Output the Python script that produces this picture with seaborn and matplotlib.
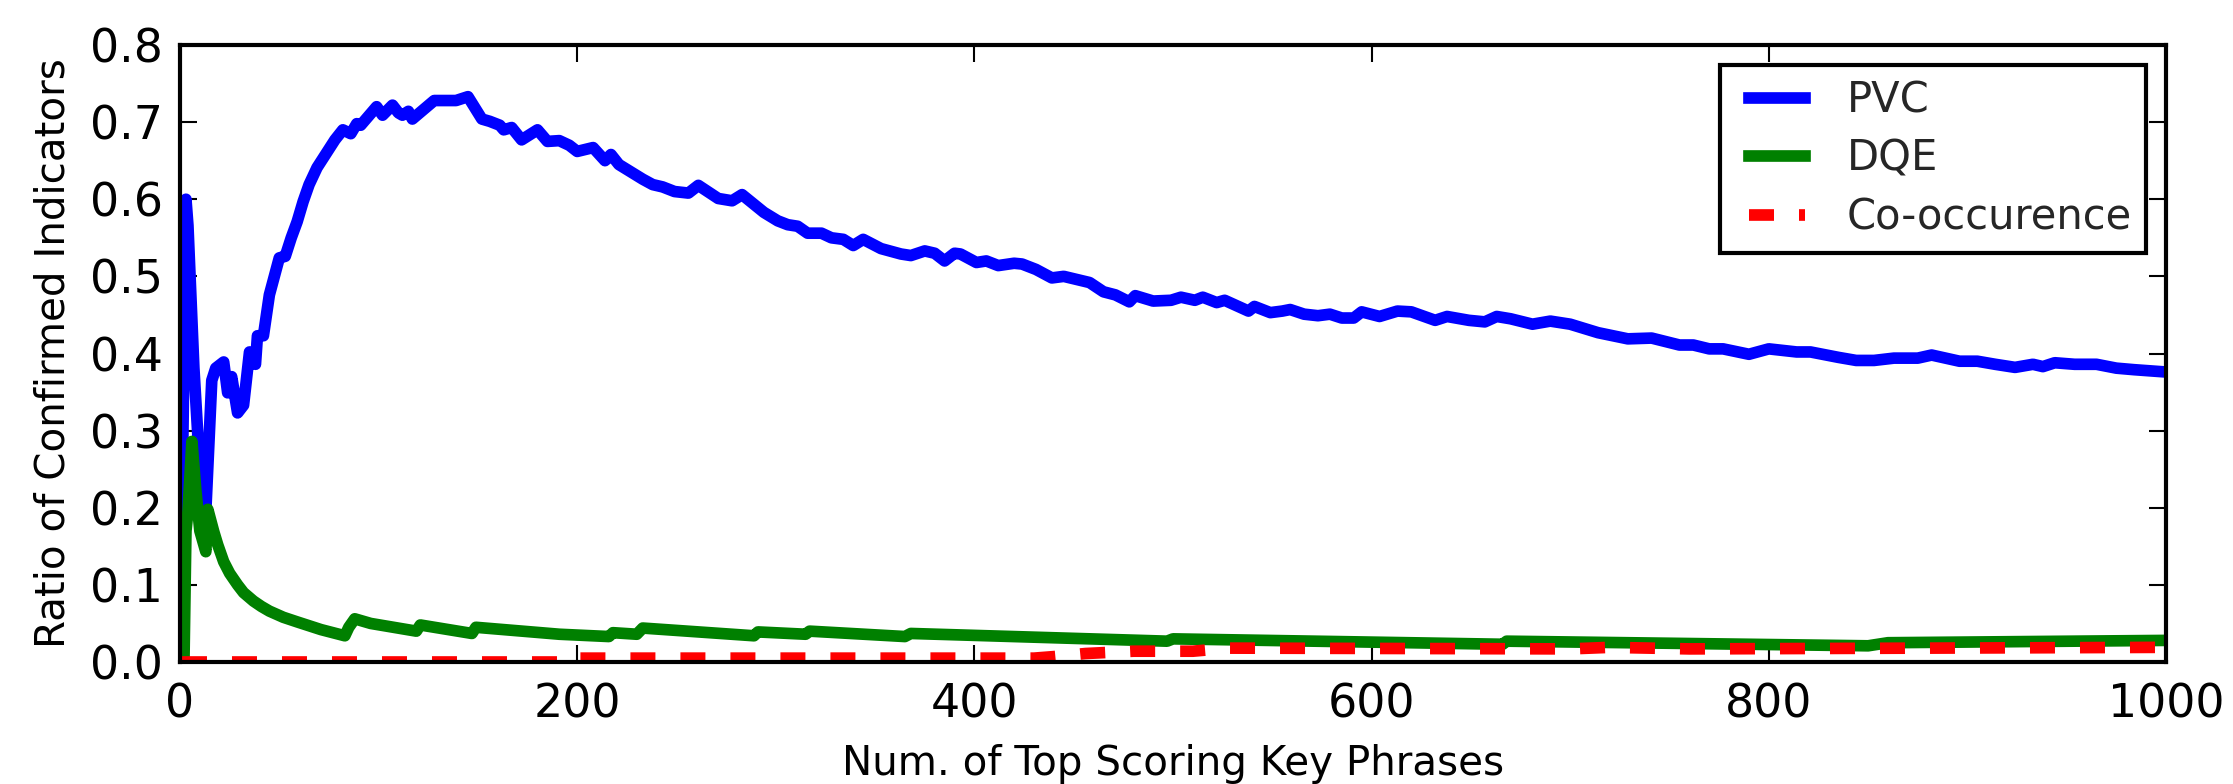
import matplotlib
matplotlib.use("Agg")
import matplotlib.pyplot as plt
from matplotlib.lines import Line2D
from matplotlib.legend_handler import HandlerLine2D
from matplotlib.ticker import FormatStrFormatter
import seaborn as sns

# values
pvc_x = [1, 3, 4, 7, 10, 13, 16, 18, 22, 24,
         26, 29, 32, 35, 38, 39, 42, 45, 50, 53,
         56, 59, 62, 65, 69, 74, 78, 82, 86, 89,
         91, 99, 102, 107, 110, 112, 115, 117, 128, 133,
         139, 145, 152, 156, 161, 163, 167, 172, 180, 185,
         191, 196, 200, 208, 214, 217, 221, 228, 233, 238,
         243, 249, 256, 261, 271, 278, 283, 294, 301, 306,
         311, 316, 323, 328, 334, 339, 344, 353, 363, 368,
         375, 380, 385, 390, 393, 401, 406, 412, 420, 424,
         431, 439, 445, 458, 465, 471, 478, 481, 490, 499,
         504, 511, 515, 522, 526, 538, 541, 549, 555, 559,
         566, 573, 579, 585, 591, 595, 604, 613, 620, 632,
         638, 649, 657, 663, 670, 681, 690, 700, 714, 729,
         741, 755, 762, 770, 777, 790, 800, 814, 821, 835,
         844, 853, 863, 875, 882, 896, 905, 914, 924, 933,
         938, 944, 954, 965, 975, 984, 1000]
pvc_y = [0.200, 0.600, 0.566, 0.381, 0.249, 0.196, 0.365, 0.381, 0.389, 0.349,
         0.370, 0.323, 0.333, 0.402, 0.386, 0.423, 0.423, 0.476, 0.524, 0.526,
         0.550, 0.571, 0.597, 0.619, 0.641, 0.661, 0.677, 0.690, 0.685, 0.698,
         0.696, 0.720, 0.709, 0.722, 0.712, 0.709, 0.714, 0.704, 0.728, 0.728,
         0.728, 0.733, 0.704, 0.701, 0.696, 0.690, 0.693, 0.677, 0.690, 0.675,
         0.676, 0.670, 0.662, 0.667, 0.650, 0.658, 0.645, 0.634, 0.626, 0.619,
         0.616, 0.610, 0.608, 0.618, 0.601, 0.598, 0.606, 0.583, 0.572, 0.567,
         0.565, 0.556, 0.556, 0.550, 0.548, 0.540, 0.548, 0.536, 0.529, 0.527,
         0.533, 0.530, 0.520, 0.530, 0.529, 0.518, 0.520, 0.514, 0.517, 0.516,
         0.509, 0.498, 0.500, 0.492, 0.480, 0.476, 0.467, 0.475, 0.468, 0.469,
         0.473, 0.469, 0.473, 0.466, 0.469, 0.455, 0.461, 0.453, 0.455, 0.457,
         0.451, 0.449, 0.451, 0.446, 0.446, 0.454, 0.448, 0.455, 0.454, 0.443,
         0.448, 0.443, 0.441, 0.448, 0.445, 0.438, 0.442, 0.438, 0.427, 0.419,
         0.420, 0.411, 0.411, 0.406, 0.406, 0.399, 0.406, 0.402, 0.402, 0.395,
         0.391, 0.391, 0.394, 0.394, 0.398, 0.390, 0.390, 0.386, 0.382, 0.386,
         0.383, 0.388, 0.386, 0.386, 0.381, 0.379, 0.376]

dqe_x = [1, 2, 3, 4, 6, 8, 10, 13, 14, 17,
         19, 22, 25, 29, 32, 37, 41, 45, 52, 59,
         65, 71, 77, 83, 85, 88, 96, 119, 121, 147,
         149, 191, 216, 218, 230, 233, 289, 291, 315, 317,
         365, 368, 497, 500, 666, 668, 850, 860, 1000]
dqe_y = [0.0, 0.0, 0.170, 0.195, 0.286, 0.222, 0.170, 0.143, 0.198, 0.169,
         0.152, 0.130, 0.115, 0.100, 0.090, 0.079, 0.072, 0.066, 0.058, 0.052,
         0.047, 0.042, 0.038, 0.034, 0.045, 0.056, 0.050, 0.040, 0.048, 0.037,
         0.045, 0.036, 0.033, 0.038, 0.036, 0.044, 0.034, 0.039, 0.036, 0.040,
         0.033, 0.037, 0.027, 0.030, 0.023, 0.027, 0.021, 0.025, 0.028]

cooc_x = [1, 198, 200, 430, 440, 456, 480, 510, 528, 700,
          720, 760, 880, 1000]
cooc_y = [0.0, 0.0, 0.005, 0.005, 0.007, 0.011, 0.014, 0.014, 0.018, 0.017,
          0.019, 0.017, 0.018, 0.019]

x_ticks = [0, 200, 400, 600, 800, 1000]
y_ticks = [0.0, 0.1, 0.2, 0.3, 0.4, 0.5, 0.6, 0.7, 0.8]

sns.set_style("ticks")
plt.rcParams["font.family"] = ["DejaVu Sans"]
plt.rcParams["lines.scale_dashes"] = False

fig, ax = plt.subplots(figsize=(2233 / 300, 784 / 300), dpi=300)
fig.subplots_adjust(left=180 / 2233, right=2166 / 2233, bottom=1 - 662 / 784, top=1 - 45 / 784)

lw = 2.8
sns.lineplot(x=pvc_x, y=pvc_y, color=(0, 0, 1), lw=lw, label="PVC", ax=ax,
             errorbar=None, solid_capstyle="projecting")
sns.lineplot(x=dqe_x, y=dqe_y, color=(0, 0.5, 0), lw=lw, label="DQE", ax=ax,
             errorbar=None, solid_capstyle="projecting")
sns.lineplot(x=cooc_x, y=cooc_y, color=(1, 0, 0), lw=lw, label="Co-occurence", ax=ax,
             errorbar=None, linestyle=(0, (6, 6)))

ax.set_xlim(0, 1000)
ax.set_ylim(0, 0.8)
ax.set_xticks(x_ticks)
ax.set_yticks(y_ticks)
ax.yaxis.set_major_formatter(FormatStrFormatter("%.1f"))
ax.tick_params(direction="in", top=True, right=True, length=4, width=0.5,
               labelsize=11, pad=4, color="black", labelcolor="black")
ax.tick_params(axis="x", pad=5)
for s in ax.spines.values():
    s.set_visible(True)
    s.set_linewidth(1.0)
    s.set_color("black")

ax.set_xlabel("Num. of Top Scoring Key Phrases", fontsize=9.7, color="black")
ax.set_ylabel("Ratio of Confirmed Indicators", fontsize=9.7, color="black")

# handles sit a bit in from the frame, like the old-style legend
leg = ax.legend(loc="upper right", fontsize=10, frameon=True, fancybox=False,
                edgecolor="black", framealpha=1, handlelength=1.7,
                handletextpad=1.0, borderpad=0.34, labelspacing=0.4,
                borderaxespad=0.48, handler_map={Line2D: HandlerLine2D(xpad=0.36)})
leg.get_frame().set_linewidth(1.0)

fig.savefig("out.png", dpi=300)
